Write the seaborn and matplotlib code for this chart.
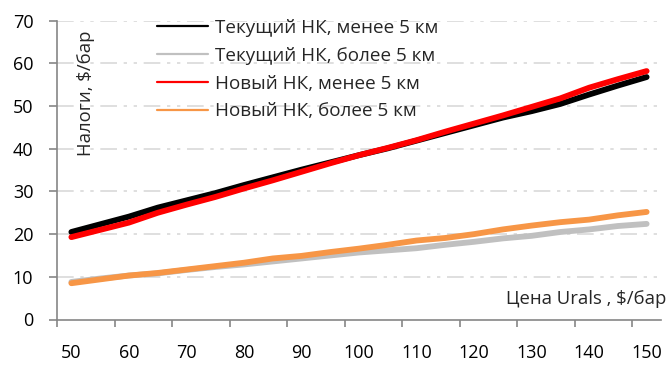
import matplotlib
matplotlib.use("Agg")
import matplotlib.pyplot as plt
from matplotlib.lines import Line2D
from matplotlib.ticker import FixedLocator
import seaborn as sns
import pandas as pd

# ---- data ----
price = [50, 55, 60, 65, 70, 75, 80, 85, 90, 95, 100, 105, 110, 115, 120, 125,
         130, 135, 140, 145, 150]
cur_less5 = [20.5, 22.3, 24.1, 26.2, 27.9, 29.6, 31.5, 33.3, 35.1, 36.8, 38.5,
             40.1, 41.9, 43.7, 45.5, 47.3, 48.8, 50.5, 52.7, 54.8, 56.8]
cur_more5 = [8.8, 9.6, 10.3, 10.8, 11.6, 12.3, 12.9, 13.6, 14.3, 15.0, 15.7,
             16.2, 16.7, 17.5, 18.2, 19.0, 19.6, 20.5, 21.1, 21.9, 22.4]
new_less5 = [19.3, 21.0, 22.7, 25.0, 26.9, 28.7, 30.7, 32.6, 34.6, 36.6, 38.5,
             40.2, 42.0, 44.0, 45.9, 47.8, 49.8, 51.8, 54.3, 56.3, 58.2]
new_more5 = [8.5, 9.4, 10.3, 10.9, 11.7, 12.5, 13.3, 14.3, 14.9, 15.8, 16.6,
             17.5, 18.5, 19.1, 20.0, 21.1, 22.0, 22.8, 23.4, 24.4, 25.2]
series_names = ["Текущий НК, менее 5 км", "Текущий НК, более 5 км",
                "Новый НК, менее 5 км", "Новый НК, более 5 км"]
series_colors = ["#000000", "#c0c0c0", "#ff0000", "#f79646"]
x_ticks = [50, 60, 70, 80, 90, 100, 110, 120, 130, 140, 150]
y_ticks = [0, 10, 20, 30, 40, 50, 60, 70]
y_label = "Налоги, $/бар"
x_label = "Цена Urals , $/бар"

sns.set_theme(style="white")
plt.rcParams["font.family"] = ["Open Sans", "DejaVu Sans"]

frames = []
for name, vals in zip(series_names, [cur_less5, cur_more5, new_less5, new_more5]):
    frames.append(pd.DataFrame({"price": price, "tax": vals, "series": name}))
df = pd.concat(frames, ignore_index=True)

fig = plt.figure(figsize=(6.72, 3.65), dpi=100)
ax = fig.add_axes([57/672, 1-319.5/365, (661-57)/672, (319.5-20.7)/365])

sns.lineplot(data=df, x="price", y="tax", hue="series", hue_order=series_names,
             palette=series_colors, linewidth=4.2, legend=False, ax=ax,
             solid_capstyle="round")

ax.set_xlim(47.5, 152.5)
ax.set_ylim(0, 70)
ax.set_xlabel("")
ax.set_ylabel("")

# grid
for yv in y_ticks[1:]:
    ax.axhline(yv, color="#d9d9d9", lw=1.2, ls=(0, (10, 4, 2, 4, 2, 4)), zorder=0)

for s in ["top", "right"]:
    ax.spines[s].set_visible(False)
for s in ["left", "bottom"]:
    ax.spines[s].set_color("#868686")
    ax.spines[s].set_linewidth(1.2)

ax.yaxis.set_major_locator(FixedLocator(y_ticks))
ax.tick_params(axis="y", which="major", direction="out", length=6, width=1.2,
               color="#868686", pad=11, labelsize=13, labelcolor="#000000", left=True)
ax.xaxis.set_major_locator(FixedLocator(x_ticks))
ax.xaxis.set_minor_locator(FixedLocator([v - 2.5 for v in x_ticks]))
ax.tick_params(axis="x", which="major", length=0, pad=18, labelsize=13,
               labelcolor="#000000")
ax.tick_params(axis="x", which="minor", direction="out", length=5, width=1.2,
               color="#868686", bottom=True)

# legend
handles = [Line2D([0], [0], color=c, lw=1.6) for c in series_colors]
fig.legend(handles, series_names, loc="upper left",
           bbox_to_anchor=(157/672, 1-19/365), frameon=False, fontsize=13.6,
           handlelength=2.72, handletextpad=0.37, labelspacing=0.52,
           borderpad=0, borderaxespad=0)

fig.text(86/672, 1-30/365, y_label, rotation=90, ha="center", va="top",
         fontsize=13.3)
fig.text(666/672, 1-299/365, x_label, ha="right", va="center", fontsize=13.3)

fig.savefig("out.png", dpi=100)
